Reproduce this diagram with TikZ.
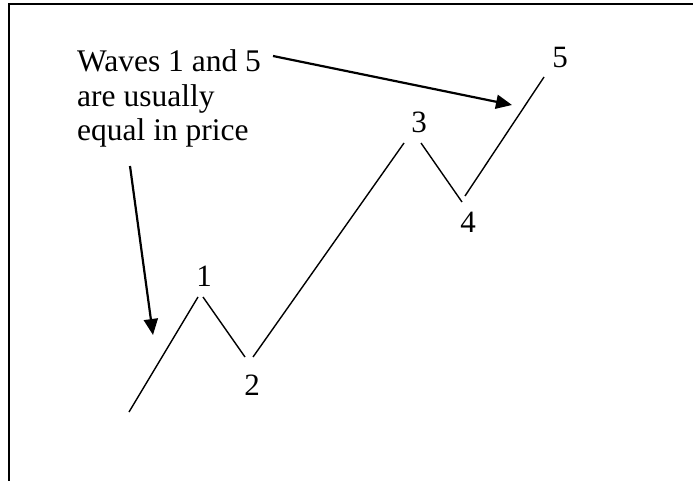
\documentclass[tikz,border=0pt]{standalone}
\usepackage{fontspec}
\setmainfont{Liberation Serif}
\usetikzlibrary{arrows.meta}
\begin{document}
\begin{tikzpicture}[x=1pt,y=-1pt,
  frameline/.style={line width=2pt},
  wave/.style={line width=1.4pt},
  pointer/.style={line width=2.2pt,-{Triangle[length=16pt,width=14pt]}},
  txt/.style={font=\fontsize{31.5}{34.5}\selectfont,inner sep=0pt,anchor=base west},
  num/.style={font=\fontsize{31}{34.5}\selectfont,inner sep=0pt,anchor=base}]
\useasboundingbox (0,0) rectangle (693,481);
% frame
\coordinate (fbl) at (9,481);
\coordinate (ftl) at (9,4);
\coordinate (ftr) at (693,4);
\draw[frameline] (fbl) -- (ftl) -- (ftr);
% wave points
\coordinate (s0) at (129,412);
\coordinate (p1a) at (198,297);
\coordinate (p1b) at (203,297);
\coordinate (t2a) at (245,357);
\coordinate (t2b) at (253,357);
\coordinate (p3a) at (404,143);
\coordinate (p3b) at (421,143);
\coordinate (t4a) at (462,202);
\coordinate (t4b) at (465,196);
\coordinate (p5) at (544,77);
\draw[wave] (s0) -- (p1a);
\draw[wave] (p1b) -- (t2a);
\draw[wave] (t2b) -- (p3a);
\draw[wave] (p3b) -- (t4a);
\draw[wave] (t4b) -- (p5);
% wave labels
\node[num] (l1) at (204,286) {1};
\node[num] (l2) at (252,395) {2};
\node[num] (l3) at (419,133) {3};
\node[num] (l4) at (468,232) {4};
\node[num] (l5) at (560,68) {5};
% annotation
\node[txt] (n1) at (77,72) {Waves 1 and 5};
\node[txt] (n2) at (77,106.5) {are usually};
\node[txt] (n3) at (77,141) {equal in price};
\coordinate (a1s) at (273,56);
\coordinate (a1e) at (512,105);
\coordinate (a2s) at (130,166);
\coordinate (a2e) at (153,335);
\draw[pointer] (a1s) -- (a1e);
\draw[pointer] (a2s) -- (a2e);
\end{tikzpicture}
\end{document}
